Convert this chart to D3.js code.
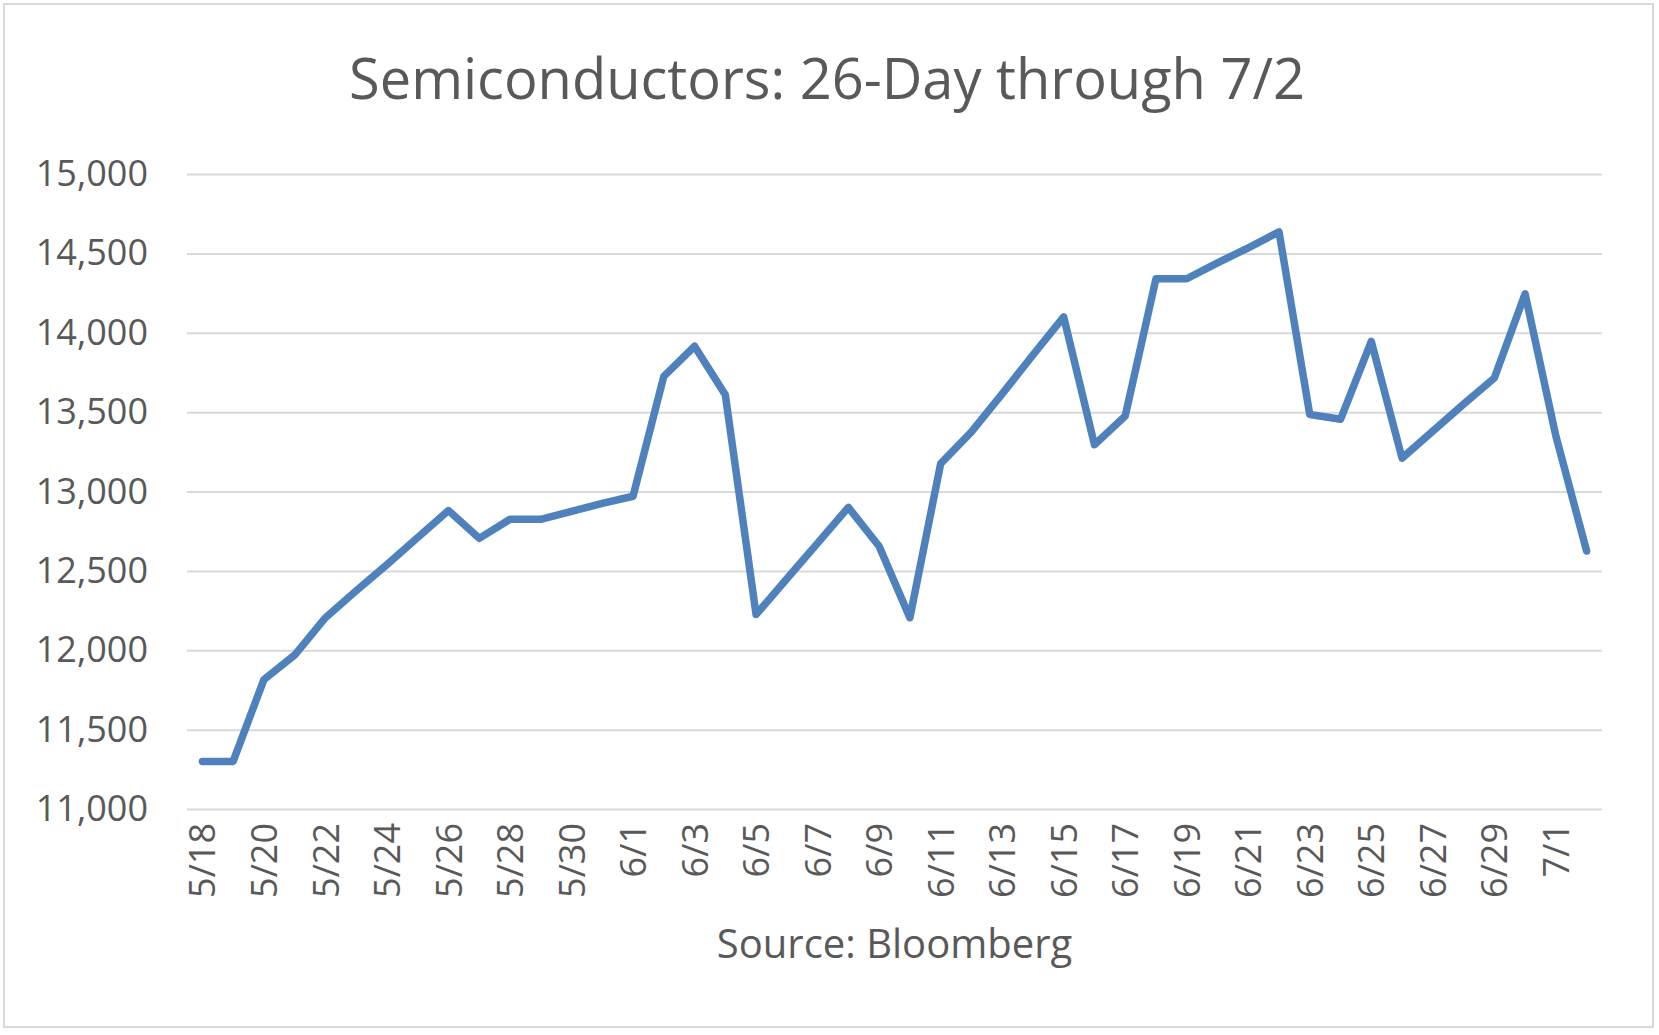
<!DOCTYPE html>
<html>
<head>
<meta charset="utf-8">
<script src="https://cdn.jsdelivr.net/npm/d3@7"></script>
<style>
  body { margin: 0; background: #fff; }
  text { font-family: "Open Sans", sans-serif; fill: #595959; }
</style>
</head>
<body>
<div id="chart"></div>
<script>
// dates (one per trading day shown) and index level
const dates = [
  "5/18", "5/19", "5/20", "5/21", "5/22", "5/23", "5/24", "5/25", "5/26", "5/27",
  "5/28", "5/29", "5/30", "5/31", "6/1", "6/2", "6/3", "6/4", "6/5", "6/6",
  "6/7", "6/8", "6/9", "6/10", "6/11", "6/12", "6/13", "6/14", "6/15", "6/16",
  "6/17", "6/18", "6/19", "6/20", "6/21", "6/22", "6/23", "6/24", "6/25", "6/26",
  "6/27", "6/28", "6/29", "6/30", "7/1", "7/2",
];
const values = [
  11300, 11300, 11815, 11970, 12205, 12375, 12540, 12710, 12880, 12705,
  12825, 12825, 12875, 12925, 12970, 13725, 13915, 13610, 12225, 12450,
  12675, 12900, 12655, 12205, 13175, 13375, 13615, 13860, 14100, 13295,
  13475, 14340, 14340, 14440, 14535, 14635, 13485, 13455, 13945, 13210,
  13380, 13550, 13715, 14245, 13350, 12625,
];
const yTicks = [11000, 11500, 12000, 12500, 13000, 13500, 14000, 14500, 15000];
const xTickLabels = dates.filter((d, i) => i % 2 === 0);

const title = "Semiconductors: 26-Day through 7/2";
const xTitle = "Source: Bloomberg";

const W = 1659, H = 1035;
const margin = { top: 174, right: 57, bottom: 226, left: 187 };
const width = W - margin.left - margin.right,
  height = H - margin.top - margin.bottom;

const svg = d3
  .select("#chart")
  .append("svg")
  .attr("width", W)
  .attr("height", H);

// outer frame
svg
  .append("rect")
  .attr("x", 4)
  .attr("y", 4)
  .attr("width", 1649)
  .attr("height", 1023)
  .attr("fill", "#fff")
  .attr("stroke", "#d9d9d9")
  .attr("stroke-width", 2);

const g = svg.append("g").attr("transform", `translate(${margin.left},${margin.top})`);

const x = d3.scalePoint().domain(dates).range([0, width]).padding(0.5);
const y = d3.scaleLinear().domain([11000, 15000]).range([height, 0]);

// Y axis with gridlines
const yAxis = g
  .append("g")
  .call(
    d3.axisLeft(y)
      .tickValues(yTicks)
      .tickSize(-width)
      .tickPadding(39)
      .tickFormat(d3.format(","))
  );
yAxis.select(".domain").remove();
yAxis.selectAll(".tick line").attr("stroke", "#d9d9d9").attr("stroke-width", 2);
yAxis.selectAll(".tick text").style("font-size", "36px").attr("fill", "#595959");

// X axis labels, rotated
const xAxis = g
  .append("g")
  .attr("transform", `translate(0,${height})`)
  .call(d3.axisBottom(x).tickValues(xTickLabels).tickSize(0));
xAxis.select(".domain").remove();
xAxis
  .selectAll(".tick text")
  .style("font-size", "36px")
  .attr("fill", "#595959")
  .attr("text-anchor", "end")
  .attr("transform", "translate(0,14) rotate(-90)")
  .attr("x", 0)
  .attr("y", 0)
  .attr("dy", "0.35em");

// the line
g.append("path")
  .datum(values)
  .attr("fill", "none")
  .attr("stroke", "#4f81bd")
  .attr("stroke-width", 7.5)
  .attr("stroke-linejoin", "round")
  .attr("stroke-linecap", "round")
  .attr(
    "d",
    d3
      .line()
      .x((d, i) => x(dates[i]))
      .y((d) => y(d))
  );

// title
svg
  .append("text")
  .attr("x", 827)
  .attr("y", 99)
  .attr("text-anchor", "middle")
  .attr("textLength", 956)
  .attr("lengthAdjust", "spacingAndGlyphs")
  .style("font-size", "56px")
  .text(title);

// x axis title
svg
  .append("text")
  .attr("x", margin.left + width / 2)
  .attr("y", 958)
  .attr("text-anchor", "middle")
  .style("font-size", "40px")
  .text(xTitle);
</script>
</body>
</html>
